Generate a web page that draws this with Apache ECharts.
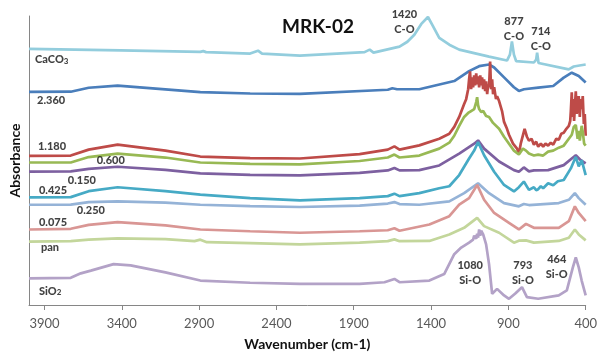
<!DOCTYPE html>
<html>
<head>
<meta charset="utf-8">
<script src="https://cdn.jsdelivr.net/npm/echarts@6/dist/echarts.min.js"></script>
<style>
html,body{margin:0;padding:0;background:#fff}
#main{width:600px;height:356px}
</style>
</head>
<body>
<div id="main"></div>
<script>
// spectra: [wavenumber cm-1, absorbance (stacked, a.u.)]
var caco3 = [[4000,2.587],[3408,2.573],[2892,2.557],[2873,2.565],[2855,2.555],[2570,2.54],[2519,2.57],[2493,2.54],[2248,2.52],[1830,2.555],[1797,2.58],[1772,2.55],[1604,2.61],[1553,2.66],[1508,2.73],[1463,2.84],[1420,2.91],[1392,2.83],[1347,2.70],[1282,2.63],[1218,2.58],[1025,2.51],[909,2.47],[890,2.53],[877,2.663],[864,2.53],[850,2.465],[735,2.45],[720,2.48],[714,2.55],[705,2.445],[700,2.44],[510,2.38],[477,2.41],[440,2.42],[400,2.43]];
var s2360 = [[4000,2.153],[3730,2.155],[3614,2.195],[3427,2.217],[2892,2.15],[2570,2.137],[2248,2.133],[1680,2.175],[1650,2.19],[1620,2.18],[1476,2.18],[1250,2.263],[1154,2.363],[1089,2.413],[1025,2.43],[992,2.40],[928,2.30],[864,2.20],[832,2.163],[799,2.18],[707,2.197],[610,2.213],[542,2.297],[490,2.347],[445,2.313],[400,2.247]];
var s1180 = [[4000,1.507],[3730,1.51],[3614,1.57],[3427,1.62],[3118,1.56],[2892,1.50],[2570,1.485],[2248,1.48],[1862,1.525],[1680,1.57],[1637,1.603],[1604,1.57],[1476,1.613],[1347,1.68],[1282,1.73],[1250,1.80],[1218,1.90],[1186,2.03],[1173,2.08],[1160,2.18],[1154,2.28],[1148,2.36],[1141,2.18],[1134,2.30],[1128,2.20],[1121,2.32],[1115,2.22],[1108,2.34],[1102,2.23],[1096,2.31],[1089,2.20],[1082,2.32],[1076,2.22],[1070,2.30],[1063,2.18],[1057,2.28],[1050,2.16],[1044,2.26],[1037,2.13],[1031,2.23],[1025,2.20],[1018,2.46],[1012,2.18],[1005,2.28],[999,2.13],[992,2.20],[980,2.08],[973,2.11],[960,2.06],[941,1.96],[928,1.85],[909,1.78],[896,1.72],[870,1.63],[844,1.58],[832,1.53],[820,1.63],[795,1.78],[780,1.70],[767,1.66],[750,1.68],[735,1.62],[720,1.65],[707,1.60],[690,1.63],[675,1.60],[660,1.63],[643,1.61],[626,1.64],[610,1.62],[590,1.68],[574,1.67],[558,1.73],[542,1.74],[525,1.78],[509,1.81],[500,1.86],[496,1.96],[490,2.15],[486,1.90],[480,2.08],[475,1.86],[470,2.00],[464,2.16],[458,1.93],[452,2.03],[445,2.11],[438,1.90],[432,2.08],[426,1.98],[419,2.11],[412,1.83],[406,1.93],[400,1.71]];
var s0600 = [[4000,1.44],[3730,1.44],[3614,1.495],[3427,1.53],[3118,1.49],[2892,1.44],[2570,1.425],[2248,1.42],[1862,1.455],[1680,1.49],[1637,1.52],[1604,1.49],[1476,1.51],[1347,1.58],[1282,1.64],[1250,1.71],[1218,1.81],[1186,1.90],[1160,1.94],[1141,1.96],[1121,1.98],[1108,2.05],[1102,2.10],[1096,2.02],[1089,1.98],[1076,1.95],[1063,1.96],[1044,1.91],[1025,1.90],[999,1.84],[960,1.78],[928,1.70],[896,1.63],[864,1.56],[832,1.52],[820,1.53],[806,1.58],[786,1.56],[767,1.53],[735,1.51],[707,1.52],[675,1.51],[643,1.55],[610,1.56],[574,1.59],[542,1.61],[509,1.68],[490,1.72],[477,1.80],[464,1.82],[452,1.68],[445,1.76],[438,1.66],[426,1.81],[419,1.75],[410,1.63],[400,1.61]];
var s0150 = [[4000,1.347],[3730,1.35],[3614,1.375],[3427,1.397],[3118,1.365],[2892,1.33],[2570,1.315],[2248,1.31],[1862,1.335],[1680,1.36],[1637,1.385],[1604,1.36],[1476,1.363],[1347,1.41],[1218,1.53],[1121,1.63],[1096,1.663],[1057,1.58],[960,1.45],[864,1.363],[832,1.347],[800,1.39],[767,1.35],[735,1.36],[643,1.363],[542,1.413],[490,1.48],[464,1.513],[432,1.463],[400,1.43]];
var s0425 = [[4000,1.087],[3730,1.09],[3614,1.15],[3427,1.19],[3118,1.15],[2892,1.115],[2570,1.08],[2248,1.057],[1862,1.08],[1680,1.10],[1637,1.125],[1604,1.10],[1476,1.13],[1347,1.18],[1282,1.20],[1218,1.313],[1154,1.48],[1121,1.56],[1096,1.647],[1057,1.513],[992,1.347],[928,1.213],[864,1.147],[832,1.19],[800,1.247],[767,1.163],[735,1.19],[720,1.16],[707,1.17],[690,1.20],[675,1.18],[643,1.23],[610,1.21],[580,1.25],[542,1.263],[496,1.38],[464,1.497],[445,1.40],[426,1.463],[400,1.313]];
var s0250 = [[4000,1.013],[3730,1.015],[3614,1.04],[3427,1.047],[3118,1.035],[2892,1.013],[2570,1.00],[2248,0.99],[1862,1.005],[1680,1.025],[1637,1.04],[1604,1.02],[1476,1.013],[1282,1.047],[1186,1.13],[1096,1.23],[1025,1.13],[928,1.03],[832,0.997],[800,1.02],[767,1.01],[574,1.03],[509,1.063],[470,1.13],[445,1.08],[400,1.013]];
var s0075 = [[4000,0.763],[3730,0.77],[3614,0.81],[3427,0.837],[3118,0.805],[2892,0.763],[2570,0.745],[2248,0.73],[1862,0.745],[1680,0.755],[1637,0.775],[1604,0.75],[1411,0.813],[1282,0.897],[1218,1.013],[1154,1.08],[1102,1.213],[1057,1.063],[992,0.93],[896,0.83],[832,0.763],[786,0.82],[735,0.78],[574,0.78],[509,0.847],[470,0.997],[445,0.93],[400,0.847]];
var pan = [[4000,0.64],[3730,0.645],[3614,0.66],[3427,0.673],[3118,0.665],[2930,0.645],[2892,0.66],[2850,0.635],[2570,0.625],[2248,0.613],[1862,0.63],[1680,0.645],[1637,0.663],[1604,0.645],[1411,0.647],[1282,0.713],[1186,0.78],[1102,0.88],[1057,0.797],[960,0.73],[864,0.63],[832,0.65],[786,0.653],[735,0.63],[574,0.647],[509,0.68],[470,0.763],[445,0.713],[400,0.653]];
var sio2 = [[4000,0.27],[3730,0.275],[3665,0.32],[3600,0.347],[3453,0.413],[3343,0.40],[3118,0.33],[2892,0.247],[2570,0.225],[2248,0.213],[1862,0.213],[1701,0.23],[1637,0.263],[1604,0.23],[1411,0.247],[1315,0.313],[1250,0.513],[1205,0.58],[1154,0.63],[1128,0.66],[1121,0.70],[1108,0.67],[1102,0.72],[1096,0.68],[1089,0.763],[1082,0.70],[1076,0.75],[1063,0.713],[1044,0.613],[1025,0.413],[1005,0.113],[973,0.163],[928,0.097],[896,0.063],[857,0.113],[812,0.18],[780,0.08],[707,0.063],[574,0.097],[522,0.147],[483,0.38],[464,0.48],[445,0.38],[426,0.247],[400,0.097]];

var seriesNames = ['CaCO3', '2.360', '1.180', '0.600', '0.150', '0.425', '0.250', '0.075', 'pan', 'SiO2'];
var seriesData = [caco3, s2360, s1180, s0600, s0150, s0425, s0250, s0075, pan, sio2];
var seriesColors = ['#93cddd', '#4a7ebb', '#be4b48', '#98b954', '#7d60a0', '#46aac5', '#95b3d7', '#d99694', '#c3d69b', '#b3a2c7'];

// where each curve's name sits: [wavenumber, absorbance]
var nameAnchors = [[3961,2.48],[3948,2.07],[3942,1.60],[3562,1.463],[3749,1.263],[3936,1.16],[3691,0.957],[3936,0.83],[3923,0.58],[3936,0.14]];
var nameTexts = ['{a|CaCO}{s|3}', '2.360', '1.180', '0.600', '0.150', '0.425', '0.250', '0.075', 'pan', '{a|SiO}{s|2}'];

// band assignments
var peakNotes = [[1572,2.855,'1420\nC-O'],[864,2.785,'877\nC-O'],[690,2.685,'714\nC-O'],[1147,0.325,'1080\nSi-O'],[806,0.32,'793\nSi-O'],[587,0.38,'464\nSi-O']];

var xTicks = [3900, 3400, 2900, 2400, 1900, 1400, 900, 400];

var myChart = echarts.init(document.getElementById('main'));

var series = [];
for (var i = 0; i < seriesData.length; i++) {
	series.push({
		name: seriesNames[i],
		type: 'line',
		data: seriesData[i],
		showSymbol: false,
		symbol: 'none',
		smooth: false,
		animation: false,
		lineStyle: { color: seriesColors[i], width: 2.7 },
		z: 2
	});
}

var textRich = {
	a: { fontFamily: 'Lato', fontWeight: 900, fontSize: 11, color: '#111' },
	s: { fontFamily: 'Lato', fontWeight: 900, fontSize: 8, color: '#111', padding: [3, 0, 0, 0] }
};

series.push({
	type: 'scatter',
	symbolSize: 0,
	animation: false,
	silent: true,
	z: 5,
	data: nameAnchors.map(function (p, k) { return { value: p, txt: nameTexts[k] }; }),
	label: {
		show: true,
		position: 'right',
		distance: 0,
		fontFamily: 'Lato',
		fontWeight: 900,
		fontSize: 11,
		color: '#111',
		rich: textRich,
		formatter: function (p) { return p.data.txt; }
	}
});

series.push({
	type: 'scatter',
	symbolSize: 0,
	animation: false,
	silent: true,
	z: 5,
	data: peakNotes.map(function (p) { return { value: [p[0], p[1]], txt: p[2] }; }),
	label: {
		show: true,
		position: 'inside',
		fontFamily: 'Lato',
		fontWeight: 900,
		fontSize: 11,
		lineHeight: 15,
		align: 'center',
		color: '#111',
		formatter: function (p) { return p.data.txt; }
	}
});

var option = {
	backgroundColor: '#fff',
	animation: false,
	title: {
		text: 'MRK-02',
		left: 313,
		top: 12,
		textAlign: 'center',
		textStyle: { fontFamily: 'Lato', fontWeight: 'bold', fontSize: 19, color: '#111' }
	},
	grid: { left: 28, right: 13, top: 16, bottom: 48, containLabel: false },
	xAxis: {
		type: 'value',
		min: 400,
		max: 4000,
		inverse: true,
		name: 'Wavenumber (cm-1)',
		nameLocation: 'middle',
		nameGap: 32,
		nameTextStyle: { fontFamily: 'Lato', fontWeight: 'bold', fontSize: 14, color: '#111' },
		axisLine: { onZero: false, lineStyle: { color: '#868686', width: 1 } },
		axisTick: { show: true, inside: false, length: 5, customValues: xTicks, lineStyle: { color: '#868686' } },
		axisLabel: {
			customValues: xTicks,
			margin: 12,
			fontFamily: 'Lato',
			fontSize: 13,
			color: '#595959',
			formatter: function (v) { return String(v); }
		},
		splitLine: { show: false }
	},
	yAxis: {
		type: 'value',
		min: 0,
		max: 2.92,
		name: 'Absorbance',
		nameLocation: 'middle',
		nameRotate: 90,
		nameGap: 7,
		nameTextStyle: { fontFamily: 'Lato', fontWeight: 'bold', fontSize: 14, color: '#111' },
		axisLine: { show: true, onZero: false, lineStyle: { color: '#868686', width: 1 } },
		axisTick: { show: false },
		axisLabel: { show: false },
		splitLine: { show: false }
	},
	series: series
};

myChart.setOption(option);

window.addEventListener('resize', function () {
	myChart.resize();
});
</script>
</body>
</html>
